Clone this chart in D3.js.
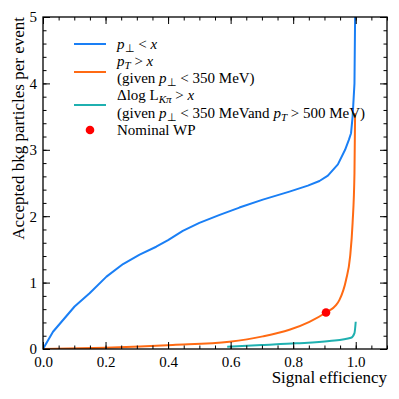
<!DOCTYPE html>
<html>
<head>
<meta charset="utf-8">
<script src="https://cdn.jsdelivr.net/npm/d3@7"></script>
<style>
  body { margin: 0; background: #fff; }
</style>
</head>
<body>
<svg id="chart" width="399" height="399"></svg>
<script>
var effBlue = [0, 0.032, 0.101, 0.149, 0.203, 0.256, 0.309, 0.362, 0.40, 0.447, 0.50, 0.565, 0.628, 0.703, 0.788, 0.847, 0.884, 0.911, 0.943, 0.966, 0.978, 0.985, 0.99, 0.996, 0.998, 0.999];
var bkgBlue = [0, 0.26, 0.64, 0.84, 1.09, 1.28, 1.42, 1.54, 1.64, 1.78, 1.90, 2.02, 2.13, 2.25, 2.37, 2.46, 2.53, 2.61, 2.78, 3.0, 3.15, 3.25, 3.5, 4.0, 5.0, 5.6];

var effOrange = [0, 0.2, 0.415, 0.596, 0.703, 0.788, 0.852, 0.905, 0.937, 0.948, 0.969, 0.982, 0.99, 0.996, 0.998];
var bkgOrange = [0, 0.02, 0.06, 0.11, 0.19, 0.29, 0.41, 0.55, 0.66, 0.74, 1.04, 1.39, 1.9, 2.65, 3.55];

var effTeal = [0.589, 0.7, 0.81, 0.916, 0.985, 0.996, 1.0];
var bkgTeal = [0.035, 0.06, 0.085, 0.12, 0.17, 0.24, 0.41];

var wpPoint = [0.905, 0.55];

var xTicks = [0, 0.2, 0.4, 0.6, 0.8, 1.0];
var yTicks = [0, 1, 2, 3, 4, 5];

var pLeft = 43, pRight = 387, pTop = 17, pBottom = 349;
var serif = "'Liberation Serif', 'Times New Roman', Times, serif";

var svg = d3.select("#chart").attr("font-family", serif);
var x = d3.scaleLinear().domain([0, 1.1]).range([pLeft, pRight]);
var y = d3.scaleLinear().domain([0, 5]).range([pBottom, pTop]);

svg.append("defs").append("clipPath").attr("id", "clip")
  .append("rect")
  .attr("x", pLeft).attr("y", pTop)
  .attr("width", pRight - pLeft).attr("height", pBottom - pTop);

var plot = svg.append("g").attr("clip-path", "url(#clip)");

function zip(a, b) { return a.map(function(v, i) { return [v, b[i]]; }); }

var lineLin = d3.line().x(function(d) { return x(d[0]); }).y(function(d) { return y(d[1]); });
var lineSmooth = d3.line().curve(d3.curveMonotoneX)
  .x(function(d) { return x(d[0]); }).y(function(d) { return y(d[1]); });

var series = [
  { pts: zip(effTeal, bkgTeal), color: "#1fb0b0", gen: lineSmooth },
  { pts: zip(effOrange, bkgOrange), color: "#ff6a13", gen: lineSmooth },
  { pts: zip(effBlue, bkgBlue), color: "#1a7ff5", gen: lineLin }
];

series.forEach(function(s) {
  plot.append("path")
    .attr("d", s.gen(s.pts))
    .attr("fill", "none")
    .attr("stroke", s.color)
    .attr("stroke-width", 2)
    .attr("stroke-linejoin", "round");
});

plot.append("circle")
  .attr("cx", x(wpPoint[0])).attr("cy", y(wpPoint[1]))
  .attr("r", 4.3).attr("fill", "#ff0000");

// axes: ticks inside, mirrored on all sides
var xMinor = d3.range(0, 1.1001, 0.05);
var yMinor = d3.range(0, 5.001, 0.2);

function xAxis(gen, ypos, len) {
  return svg.append("g").attr("transform", "translate(0," + ypos + ")")
    .call(gen.tickSizeInner(len).tickSizeOuter(0));
}

xAxis(d3.axisBottom(x).tickValues(xMinor).tickFormat(""), pBottom, -3.5);
xAxis(d3.axisBottom(x).tickValues(xTicks).tickFormat(d3.format(".1f")).tickPadding(7), pBottom, -7);
xAxis(d3.axisTop(x).tickValues(xMinor).tickFormat(""), pTop, -3.5);
xAxis(d3.axisTop(x).tickValues(xTicks).tickFormat(""), pTop, -7);

function yAxis(gen, xpos, len) {
  return svg.append("g").attr("transform", "translate(" + xpos + ",0)")
    .call(gen.tickSizeInner(len).tickSizeOuter(0));
}

yAxis(d3.axisLeft(y).tickValues(yMinor).tickFormat(""), pLeft, -3.5);
yAxis(d3.axisLeft(y).tickValues(yTicks).tickFormat(d3.format("d")).tickPadding(6), pLeft, -7);
yAxis(d3.axisRight(y).tickValues(yMinor).tickFormat(""), pRight, -3.5);
yAxis(d3.axisRight(y).tickValues(yTicks).tickFormat(""), pRight, -7);

svg.selectAll(".domain").remove();
svg.selectAll("g").attr("font-family", serif);
svg.selectAll(".tick line").attr("stroke", "#000").attr("stroke-width", 1);
svg.selectAll(".tick text").attr("font-size", 15).attr("fill", "#000");

svg.append("rect")
  .attr("x", pLeft).attr("y", pTop)
  .attr("width", pRight - pLeft).attr("height", pBottom - pTop)
  .attr("fill", "none").attr("stroke", "#000").attr("stroke-width", 1.3);

svg.append("text")
  .attr("x", pRight).attr("y", 383)
  .attr("text-anchor", "end")
  .attr("font-size", 17)
  .text("Signal efficiency");

svg.append("text")
  .attr("transform", "translate(24," + pTop + ") rotate(-90)")
  .attr("text-anchor", "end")
  .attr("font-size", 17)
  .text("Accepted bkg particles per event");

// legend
var legend = svg.append("g").attr("font-size", 15).attr("font-family", serif);
var lx0 = 74, lx1 = 106, tx = 117;

function mathText(parent, yy, parts) {
  var t = parent.append("text").attr("x", tx).attr("y", yy);
  parts.forEach(function(p) {
    var ts = t.append("tspan").text(p[0]);
    if (p[1] === "i") ts.attr("font-style", "italic");
    if (p[1] === "sub") ts.attr("font-size", 11).attr("dy", 3);
    if (p[1] === "subi") ts.attr("font-size", 11).attr("font-style", "italic").attr("dy", 3);
    if (p[2]) ts.attr("dy", p[2]);
  });
  return t;
}

legend.append("line").attr("x1", lx0).attr("x2", lx1).attr("y1", 44).attr("y2", 44)
  .attr("stroke", "#1a7ff5").attr("stroke-width", 2);
mathText(legend, 49, [["p", "i"], ["\u22A5", "sub"], [" < ", "", -3], ["x", "i"]]);

legend.append("line").attr("x1", lx0).attr("x2", lx1).attr("y1", 72).attr("y2", 72)
  .attr("stroke", "#ff6a13").attr("stroke-width", 2);
mathText(legend, 66, [["p", "i"], ["T", "subi"], [" > ", "", -3], ["x", "i"]]);
mathText(legend, 83, [["(given "], ["p", "i"], ["\u22A5", "sub"], [" < 350 MeV)", "", -3]]);

legend.append("line").attr("x1", lx0).attr("x2", lx1).attr("y1", 105).attr("y2", 105)
  .attr("stroke", "#1fb0b0").attr("stroke-width", 2);
mathText(legend, 100, [["\u0394log L"], ["K\u03C0", "subi"], [" > ", "", -3], ["x", "i"]]);
mathText(legend, 118, [["(given "], ["p", "i"], ["\u22A5", "sub"], [" < 350 MeVand ", "", -3], ["p", "i"], ["T", "subi"], [" > 500 MeV)", "", -3]]);

legend.append("circle").attr("cx", 90).attr("cy", 130).attr("r", 4.3).attr("fill", "#ff0000");
legend.append("text").attr("x", tx).attr("y", 135).text("Nominal WP");
</script>
</body>
</html>
